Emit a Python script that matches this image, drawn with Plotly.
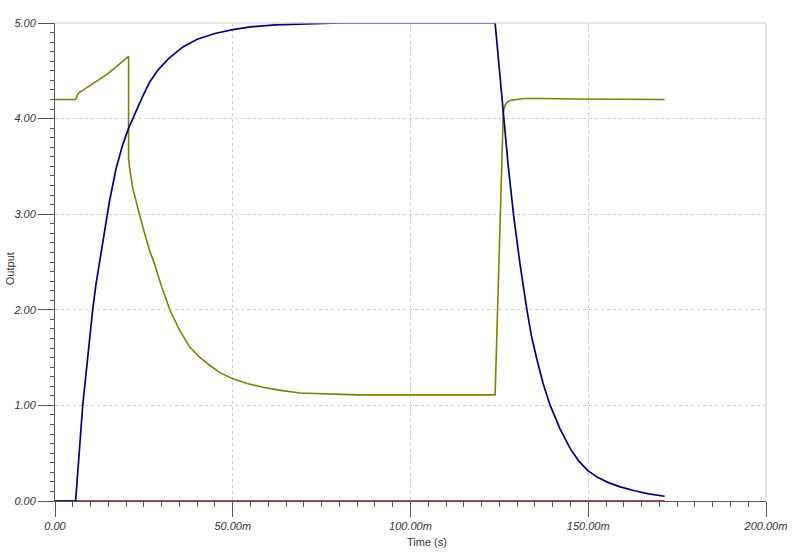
import plotly.graph_objects as go

# time in ms, output in V
blue_t = [0, 5.8, 7.8, 9.2, 10.6, 11.5, 12.5, 13.8, 15.3, 17.2, 19, 20.7, 22.5, 24.5, 26.6, 29, 32, 36, 40,
          45, 50, 55, 62, 70, 80, 123.8,
          126.1, 127.5, 129.0, 130.8, 132.7, 134, 135.5, 137.3, 139.3, 142, 144.9, 147.3, 149.8, 152.5,
          155.5, 159, 163, 167, 171.5]
blue_v = [0, 0, 1.00, 1.52, 2.00, 2.26, 2.50, 2.82, 3.13, 3.48, 3.72, 3.90, 4.06, 4.22, 4.38, 4.51, 4.63, 4.75, 4.83,
          4.89, 4.93, 4.96, 4.98, 4.99, 5.0, 5.0,
          4.03, 3.50, 2.99, 2.48, 2.01, 1.73, 1.49, 1.23, 1.00, 0.76, 0.55, 0.42, 0.32, 0.25,
          0.195, 0.148, 0.107, 0.075, 0.05]

yellow_t = [0, 5.8, 6.2, 6.7, 8, 10, 12.5, 14.5, 16.5, 18.5, 20.7,
            20.7, 21.0, 21.9, 23.0, 23.8, 25.2, 26.6, 28.0, 30, 32.3, 35, 37.9, 40.5, 43.5, 46.5, 49.9,
            54, 58.5, 63, 68.9, 75, 85, 123.8,
            126.1, 126.6, 127.2, 128, 129.5, 132, 137, 145, 171.5]
yellow_v = [4.20, 4.20, 4.24, 4.27, 4.30, 4.35, 4.41, 4.46, 4.52, 4.58, 4.65,
            3.58, 3.48, 3.27, 3.10, 2.99, 2.80, 2.62, 2.48, 2.24, 2.00, 1.79, 1.61, 1.51, 1.42, 1.34, 1.28,
            1.23, 1.19, 1.16, 1.13, 1.12, 1.11, 1.11,
            4.07, 4.14, 4.17, 4.19, 4.20, 4.21, 4.21, 4.205, 4.20]

red_t = [0, 171.5]
red_v = [0, 0]

x_ticks = [0, 50, 100, 150, 200]
x_labels = ['0.00', '50.00m', '100.00m', '150.00m', '200.00m']
y_ticks = [0, 1, 2, 3, 4, 5]
y_labels = ['0.00', '1.00', '2.00', '3.00', '4.00', '5.00']

axis_col = '#555555'
font_fam = 'Liberation Sans, Arial, sans-serif'

fig = go.Figure()
fig.add_trace(go.Scatter(x=red_t, y=red_v, mode='lines', line=dict(color='#b00000', width=1.6)))
fig.add_trace(go.Scatter(x=yellow_t, y=yellow_v, mode='lines', line=dict(color='#808000', width=1.6)))
fig.add_trace(go.Scatter(x=blue_t, y=blue_v, mode='lines', line=dict(color='#000080', width=1.7)))

tickfont = dict(family=font_fam, size=11, color='#333333', style='italic')

fig.update_layout(
    width=800, height=553,
    margin=dict(l=55, r=34, t=23, b=52),
    plot_bgcolor='white', paper_bgcolor='white',
    showlegend=False,
    xaxis=dict(
        range=[0, 200], tickvals=x_ticks, ticktext=x_labels, automargin=False,
        ticks='outside', ticklen=15, tickcolor=axis_col, tickfont=tickfont,
        showline=True, linecolor=axis_col, linewidth=1,
        showgrid=True, gridcolor='#cccccc', griddash='dot', gridwidth=1,
        zeroline=False,
        minor=dict(dtick=5, ticks='outside', ticklen=5, tickcolor=axis_col, showgrid=False),
    ),
    yaxis=dict(
        range=[0, 5], tickvals=y_ticks, ticktext=y_labels, automargin=False,
        ticks='outside', ticklen=16, tickcolor=axis_col, tickfont=tickfont,
        showline=True, linecolor=axis_col, linewidth=1,
        showgrid=True, gridcolor='#cccccc', griddash='dot', gridwidth=1,
        zeroline=False,
        minor=dict(dtick=0.1, ticks='outside', ticklen=4, tickcolor=axis_col, showgrid=False),
    ),
    # medium ticks
    xaxis2=dict(
        range=[0, 200], overlaying='x', anchor='y', side='bottom', automargin=False,
        tickvals=[25, 75, 125, 175], ticks='outside', ticklen=9, tickcolor=axis_col,
        showticklabels=False, showgrid=False, zeroline=False, showline=False,
    ),
    yaxis2=dict(
        range=[0, 5], overlaying='y', anchor='x', side='left', automargin=False,
        tickvals=[0.5, 1.5, 2.5, 3.5, 4.5], ticks='outside', ticklen=7, tickcolor=axis_col,
        showticklabels=False, showgrid=False, zeroline=False, showline=False,
    ),
)

# solid light border on top and right
fig.add_shape(type='line', xref='paper', yref='paper', x0=0, x1=1, y0=1, y1=1,
              line=dict(color='#cccccc', width=1))
fig.add_shape(type='line', xref='paper', yref='paper', x0=1, x1=1, y0=0, y1=1,
              line=dict(color='#cccccc', width=1))

fig.add_annotation(text='Time (s)', xref='paper', yref='paper', x=0.523, y=-0.0854,
                   yanchor='middle', showarrow=False,
                   font=dict(family=font_fam, size=11, color='#333333'))
fig.add_annotation(text='Output', xref='paper', yref='paper', x=-0.0633, y=0.487,
                   xanchor='center', yanchor='middle', textangle=-90, showarrow=False,
                   font=dict(family=font_fam, size=11, color='#333333'))

# drop the browser's default body margin so the figure sits at the top-left corner
fig.write_html("out.html", config={'displayModeBar': False},
               post_script="document.body.style.margin='0px';")
